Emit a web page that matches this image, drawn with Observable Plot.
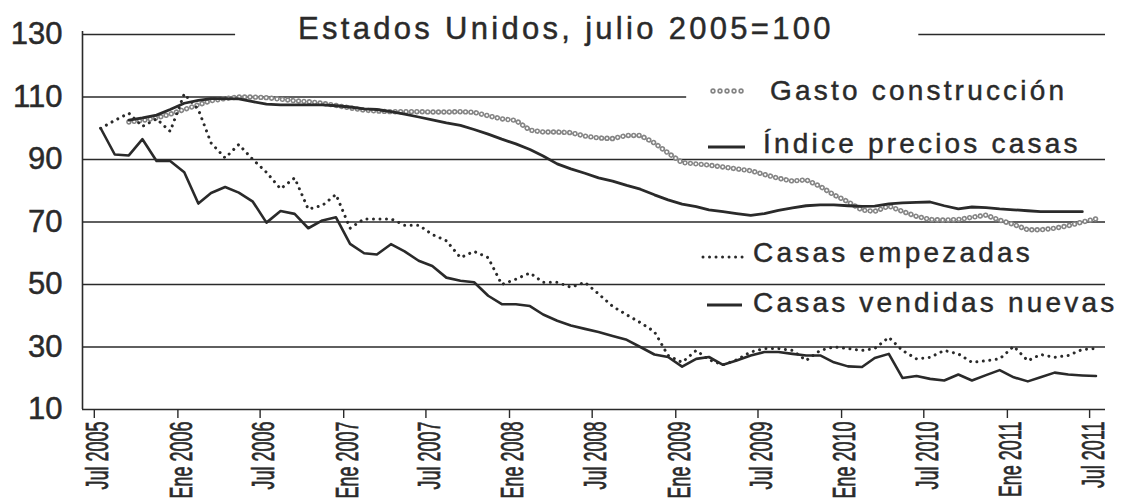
<!DOCTYPE html>
<html>
<head>
<meta charset="utf-8">
<script src="https://cdn.jsdelivr.net/npm/d3@7"></script>
<script src="https://cdn.jsdelivr.net/npm/@observablehq/plot@0.6"></script>
<style>
  body { margin: 0; background: #fff; }
  #chart { width: 1132px; height: 500px; position: relative; }
  .lg text { font-family: "Liberation Sans", Arial, sans-serif; font-size: 28px; letter-spacing: 3.2px; fill: #2a2a2a; stroke: #2a2a2a; stroke-width: 0.45px; text-anchor: start; }
  .ttl { font-family: "Liberation Sans", Arial, sans-serif; font-size: 31px; letter-spacing: 3.3px; fill: #2a2a2a; stroke: #2a2a2a; stroke-width: 0.45px; text-anchor: start; }
  g[aria-label="y-axis tick label"] text { stroke: #2a2a2a; stroke-width: 0.5px; }
  g[aria-label="x-axis tick label"] text { stroke: #2a2a2a; stroke-width: 0.7px; }
</style>
</head>
<body>
<div id="chart"></div>
<script>
// ---- Data (monthly, Jul 2005 .. Jul 2011; index 100 = Jul 2005) ----
const title = "Estados Unidos, julio 2005=100";
const seriesNames = ["Gasto construcción", "Índice precios casas", "Casas empezadas", "Casas vendidas nuevas"];

const gastoConstruccion = [null, null,
  102, 102.5, 103.3, 104.5, 106, 107.5, 108.8, 109.5, 110, 110,
  109.8, 109.3, 108.8, 108.5, 108, 107.3, 106.5, 105.8, 105.5, 105.3,
  105.3, 105.3, 105.2, 105.2, 105.3, 105.1, 104, 103, 102.5, 99.4,
  98.8, 98.8, 98.6, 97.5, 96.9, 96.7, 97.7, 97.7, 95.3, 92.1,
  89, 88.6, 88.2, 87.6, 87, 86.4, 85.2, 84, 83.1, 83.5,
  81.4, 78.7, 76.5, 73.8, 73.4, 75.1, 73.4, 71.8, 70.8, 70.6,
  70.8, 71.5, 72.2, 70.6, 69.2, 67.5, 67.5, 68, 68.8, 70, 71];

const indicePreciosCasas = [null, null,
  102.6, 103.3, 104.2, 106, 108, 108.9, 109.5, 109.5, 109.4, 108.5,
  107.7, 107.5, 107.5, 107.5, 107.5, 107.2, 106.8, 106.2, 106, 105.3,
  104.5, 103.6, 102.7, 101.7, 100.9, 99.6, 98.1, 96.5, 95, 93.2,
  91.1, 88.6, 87, 85.6, 84.1, 83.1, 81.7, 80.5, 78.7, 77.1,
  75.7, 74.9, 73.9, 73.3, 72.7, 72.1, 72.7, 73.7, 74.5, 75.2,
  75.5, 75.5, 75.2, 75, 75.1, 75.8, 76.1, 76.3, 76.4, 75.2,
  74.2, 74.8, 74.6, 74.2, 73.9, 73.6, 73.3, 73.3, 73.3, 73.3, null];

const casasEmpezadas = [
  100, 102.5, 104.8, 100.6, 103, 99, 111, 106, 95.3, 90.5,
  94.8, 90, 85.9, 80.6, 84.1, 74.1, 75.3, 78.8, 68, 71,
  71, 71, 69, 69, 66, 64, 58.6, 60.6, 58.6, 50,
  51.7, 53.7, 50.7, 50.7, 49.1, 50.7, 47, 43, 40.3, 37.8,
  34.9, 27.3, 25.1, 28.9, 25.9, 24.3, 25.9, 28.4, 29.5, 29.5,
  28.9, 25.7, 28.9, 30, 29.5, 28.9, 29.5, 33.1, 28.9, 26.2,
  26.7, 28.9, 27.8, 25.1, 25.6, 26.2, 30.2, 25.6, 27.6, 26.7,
  27.3, 29.2, 29.5];

const casasVendidasNuevas = [
  100, 91.6, 91.3, 96.5, 89.5, 89.5, 85.9, 75.9, 79.3, 81.2,
  79.4, 76.5, 69.8, 73.5, 72.6, 68, 70.5, 71.5, 63, 60,
  59.6, 62.9, 60.6, 57.6, 55.9, 52.2, 51.2, 50.7, 46.4, 43.7,
  43.7, 43.1, 40.4, 38.4, 36.9, 35.8, 34.8, 33.5, 32.3, 30,
  27.6, 26.8, 23.7, 26.2, 26.8, 24.3, 25.7, 27.3, 28.4, 28.4,
  27.8, 27.3, 27.3, 25.1, 23.8, 23.6, 26.5, 27.8, 20.1, 20.7,
  19.8, 19.3, 21.2, 19.3, 21, 22.6, 20.3, 19, 20.3, 21.8,
  21.2, 20.9, 20.7];

const yTicks = [10, 30, 50, 70, 90, 110, 130];
const xTickLabels = ["Jul 2005", "Ene 2006", "Jul 2006", "Ene 2007", "Jul 2007", "Ene 2008", "Jul 2008",
  "Ene 2009", "Jul 2009", "Ene 2010", "Jul 2010", "Ene 2011", "Jul 2011"];

// ---- Build tables ----
const dates = d3.range(casasEmpezadas.length).map(i => new Date(Date.UTC(2005, 6 + i, 15)));
const toRows = arr => arr.map((v, i) => ({date: dates[i], value: v})).filter(d => d.value != null);
const gastoRows = toRows(gastoConstruccion);
const preciosRows = toRows(indicePreciosCasas);
const empezadasRows = toRows(casasEmpezadas);
const vendidasRows = toRows(casasVendidasNuevas);

const xTickDates = xTickLabels.map((l, i) => new Date(Date.UTC(2005, 6 + 6 * i, 1)));
const tickLabelByTime = new Map(xTickDates.map((d, i) => [+d, xTickLabels[i]]));

const xDomain = [new Date(Date.UTC(2005, 5, 5)), new Date(Date.UTC(2011, 7, 5))];
// gridlines interrupted by title / legend
const gridFull = [90, 70, 50, 30];
const gridPartial = [
  {y: 130, x1: xDomain[0], x2: new Date(Date.UTC(2006, 4, 8))},
  {y: 130, x1: new Date(Date.UTC(2010, 5, 20)), x2: xDomain[1]},
  {y: 110, x1: xDomain[0], x2: new Date(Date.UTC(2009, 0, 25))}
];

const ink = "#2a2a2a";
const font = "'Liberation Sans', Arial, Helvetica, sans-serif";

const chart = Plot.plot({
  width: 1132,
  height: 500,
  marginLeft: 82,
  marginRight: 27,
  marginTop: 34,
  marginBottom: 91,
  style: {background: "white", color: ink, fontFamily: font, overflow: "visible"},
  x: {type: "utc", domain: xDomain, label: null},
  y: {domain: [10, 130], label: null},
  marks: [
    Plot.ruleY(gridFull, {stroke: ink, strokeWidth: 1.4}),
    Plot.ruleY(gridPartial, {y: "y", x1: "x1", x2: "x2", stroke: ink, strokeWidth: 1.4}),
    Plot.ruleY([10], {stroke: ink, strokeWidth: 1.6}),
    Plot.ruleX([xDomain[0]], {y1: 10, y2: 131, stroke: ink, strokeWidth: 1.6}),
    Plot.axisY(yTicks, {anchor: "left", tickSize: 0, tickPadding: 20, fontSize: 31, label: null}),
    Plot.axisX(xTickDates, {anchor: "bottom", tickFormat: d => tickLabelByTime.get(+d), tickRotate: -90,
      tickSize: 9, tickPadding: 3, fontSize: 31, strokeWidth: 1.4, label: null}),
    // Gasto construcción: chain of small open circles
    Plot.line(gastoRows, {x: "date", y: "value", stroke: "#858585", strokeWidth: 5.4,
      strokeDasharray: "0.01,5.4", strokeLinecap: "round"}),
    Plot.line(gastoRows, {x: "date", y: "value", stroke: "#fff", strokeWidth: 2.2,
      strokeDasharray: "0.01,5.4", strokeLinecap: "round"}),
    // Índice precios casas
    Plot.line(preciosRows, {x: "date", y: "value", stroke: ink, strokeWidth: 2.8, strokeLinejoin: "round"}),
    // Casas empezadas: dotted
    Plot.line(empezadasRows, {x: "date", y: "value", stroke: ink, strokeWidth: 3,
      strokeDasharray: "0.01,6.5", strokeLinecap: "round"}),
    // Casas vendidas nuevas
    Plot.line(vendidasRows, {x: "date", y: "value", stroke: ink, strokeWidth: 2.6, strokeLinejoin: "round"})
  ]
});

// condensed x tick labels, nudged right of their ticks as in the original
d3.select(chart).selectAll('g[aria-label="x-axis tick label"] text').each(function () {
  const t = this.getAttribute("transform") || "";
  this.setAttribute("transform", "translate(4,0) " + t + " scale(0.58,1)");
});

// title and legend
const svg = d3.select(chart);
svg.append("text").attr("class", "ttl").attr("text-anchor", "start").attr("x", 298).attr("y", 39).text(title);

const lg = svg.append("g").attr("class", "lg").attr("text-anchor", "start");
const legendItems = [
  {name: seriesNames[0], kind: "circles", mx1: 713, mx2: 748, my: 91, tx: 770, ty: 100},
  {name: seriesNames[1], kind: "solid", mx1: 708, mx2: 745, my: 147, tx: 763, ty: 153},
  {name: seriesNames[2], kind: "dotted", mx1: 703, mx2: 743, my: 257, tx: 753, ty: 262},
  {name: seriesNames[3], kind: "solid", mx1: 707, mx2: 742, my: 305, tx: 753, ty: 312}
];
for (const it of legendItems) {
  const seg = () => lg.append("line").attr("x1", it.mx1).attr("x2", it.mx2).attr("y1", it.my).attr("y2", it.my);
  if (it.kind === "circles") {
    seg().attr("stroke", "#858585").attr("stroke-width", 5.4).attr("stroke-dasharray", "0.01,7").attr("stroke-linecap", "round");
    seg().attr("stroke", "#fff").attr("stroke-width", 2.2).attr("stroke-dasharray", "0.01,7").attr("stroke-linecap", "round");
  } else if (it.kind === "dotted") {
    seg().attr("stroke", ink).attr("stroke-width", 3).attr("stroke-dasharray", "0.01,6.5").attr("stroke-linecap", "round");
  } else {
    seg().attr("stroke", ink).attr("stroke-width", 3);
  }
  lg.append("text").attr("x", it.tx).attr("y", it.ty).text(it.name);
}

document.getElementById("chart").appendChild(chart);
</script>
</body>
</html>
